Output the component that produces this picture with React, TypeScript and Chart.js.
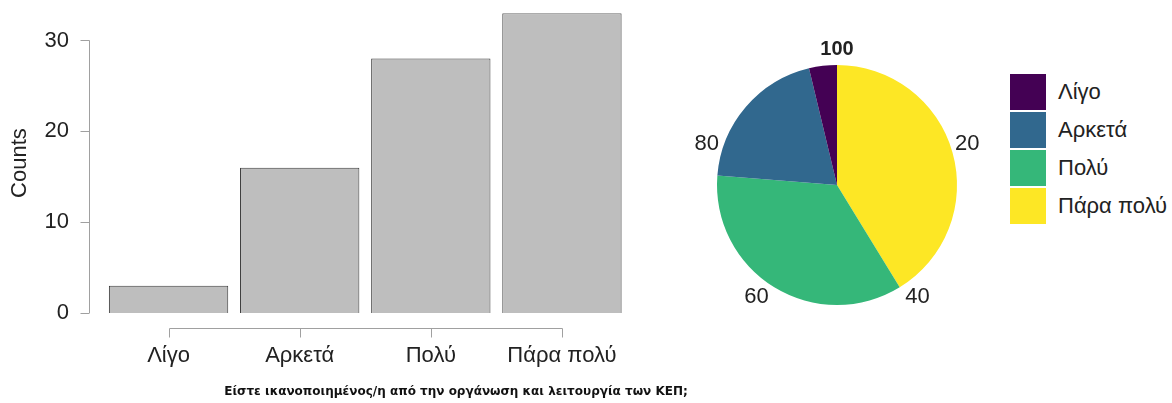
import React, { useEffect, useRef } from "react";
import { Chart, registerables } from "chart.js";

Chart.register(...registerables);

const categories = ["Λίγο", "Αρκετά", "Πολύ", "Πάρα πολύ"];
const counts = [3, 16, 28, 33];
const yTicks = [0, 10, 20, 30];
const pieColors = ["#440154", "#31688E", "#35B779", "#FDE725"];
const pieTicks = [20, 40, 60, 80, 100];
const xTitle = "Είστε ικανοποιημένος/η από την οργάνωση και λειτουργία των ΚΕΠ;";
const yTitle = "Counts";

const FONT = "'Liberation Sans', Arial, sans-serif";
const FS = 22;

export default function App() {
  const barRef = useRef<HTMLCanvasElement>(null);
  const pieRef = useRef<HTMLCanvasElement>(null);

  useEffect(() => {
    const axisPlugin = {
      id: "jaspAxes",
      afterDraw(chart: any) {
        const ctx = chart.ctx;
        const y = chart.scales.y;
        const x = chart.scales.x;
        const area = chart.chartArea;
        ctx.save();
        ctx.strokeStyle = "#a0a0a0";
        ctx.lineWidth = 1;
        const axX = Math.round(area.left - 14) + 0.5;
        const yTop = y.getPixelForValue(yTicks[yTicks.length - 1]);
        const yBot = y.getPixelForValue(yTicks[0]);
        ctx.beginPath();
        ctx.moveTo(axX, yTop);
        ctx.lineTo(axX, yBot);
        yTicks.forEach((t) => {
          const py = Math.round(y.getPixelForValue(t)) + 0.5;
          ctx.moveTo(axX - 9, py);
          ctx.lineTo(axX, py);
        });
        ctx.stroke();
        const bY = Math.round(area.bottom + 15) + 0.5;
        const x0 = Math.round(x.getPixelForValue(0)) + 0.5;
        const x1 = Math.round(x.getPixelForValue(categories.length - 1)) + 0.5;
        ctx.beginPath();
        ctx.moveTo(x0, bY);
        ctx.lineTo(x1, bY);
        categories.forEach((_, i) => {
          const px = Math.round(x.getPixelForValue(i)) + 0.5;
          ctx.moveTo(px, bY);
          ctx.lineTo(px, bY + 9);
        });
        ctx.stroke();
        ctx.fillStyle = "#222";
        ctx.font = `${FS}px ${FONT}`;
        ctx.textAlign = "center";
        ctx.textBaseline = "middle";
        ctx.translate(20, (area.top + area.bottom) / 2);
        ctx.rotate(-Math.PI / 2);
        ctx.fillText(yTitle, 0, 0);
        ctx.restore();
      },
    };

    const bar = new Chart(barRef.current!, {
      type: "bar",
      data: {
        labels: categories,
        datasets: [
          {
            data: counts,
            backgroundColor: "#BEBEBE",
            borderColor: "#3c3c3c",
            borderWidth: 1,
            barPercentage: 0.91,
            categoryPercentage: 1,
          },
        ],
      },
      options: {
        animation: false,
        responsive: false,
        maintainAspectRatio: false,
        layout: { padding: { top: 12, right: 32.5, left: 0, bottom: 0 } },
        plugins: { legend: { display: false }, tooltip: { enabled: false } },
        scales: {
          y: {
            min: 0,
            max: 33,
            afterFit(s: any) {
              s.width = 103;
            },
            border: { display: false },
            grid: { display: false, drawTicks: true, tickLength: 34 },
            ticks: {
              stepSize: 10,
              includeBounds: false,
              padding: 0,
              color: "#222",
              font: { family: FONT, size: FS },
            },
          },
          x: {
            afterFit(s: any) {
              s.height = 90;
            },
            border: { display: false },
            grid: { display: false, drawTicks: true, tickLength: 30 },
            ticks: {
              padding: 0,
              color: "#222",
              font: { family: FONT, size: FS },
            },
          },
        },
      },
      plugins: [axisPlugin],
    });

    const pieLabelPlugin = {
      id: "pieTicks",
      afterDraw(chart: any) {
        const arc = chart.getDatasetMeta(0).data[0];
        if (!arc) return;
        const cx = arc.x;
        const cy = arc.y;
        const r = arc.outerRadius + 17;
        const ctx = chart.ctx;
        ctx.save();
        ctx.fillStyle = "#222";
        ctx.textAlign = "center";
        ctx.textBaseline = "middle";
        pieTicks.forEach((t) => {
          const a = (t / 100) * 2 * Math.PI;
          ctx.font = t === 100 ? `bold ${FS - 2}px ${FONT}` : `${FS}px ${FONT}`;
          ctx.fillText(String(t), cx + r * Math.sin(a), cy - r * Math.cos(a) + 1);
        });
        ctx.restore();
      },
    };

    const order = [3, 2, 1, 0];
    const pie = new Chart(pieRef.current!, {
      type: "pie",
      data: {
        labels: order.map((i) => categories[i]),
        datasets: [
          {
            data: order.map((i) => counts[i]),
            backgroundColor: order.map((i) => pieColors[i]),
            borderWidth: 0,
          },
        ],
      },
      options: {
        animation: false,
        responsive: false,
        maintainAspectRatio: false,
        layout: { padding: 50 },
        plugins: { legend: { display: false }, tooltip: { enabled: false } },
      },
      plugins: [pieLabelPlugin],
    });

    return () => {
      bar.destroy();
      pie.destroy();
    };
  }, []);

  return (
    <div
      style={{
        position: "fixed",
        left: 0,
        top: 0,
        width: 1172,
        height: 403,
        background: "#fff",
        overflow: "hidden",
        fontFamily: FONT,
      }}
    >
      <canvas
        ref={barRef}
        width={660}
        height={403}
        style={{ position: "absolute", left: 0, top: 0, width: 660, height: 403 }}
      />
      <canvas
        ref={pieRef}
        width={340}
        height={340}
        style={{ position: "absolute", left: 667, top: 15, width: 340, height: 340 }}
      />
      <div style={{ position: "absolute", left: 1010, top: 73 }}>
        {categories.map((c, i) => (
          <div key={c} style={{ display: "flex", alignItems: "center", height: 38 }}>
            <div style={{ width: 36, height: 36, background: pieColors[i] }} />
            <span style={{ marginLeft: 12, fontSize: FS, color: "#222" }}>{c}</span>
          </div>
        ))}
      </div>
      <div
        style={{
          position: "absolute",
          left: 0,
          width: 912,
          top: 384,
          textAlign: "center",
          fontWeight: "bold",
          fontSize: 12,
          fontFamily: "'DejaVu Sans', sans-serif",
          color: "#111",
          whiteSpace: "nowrap",
        }}
      >
        {xTitle}
      </div>
    </div>
  );
}
